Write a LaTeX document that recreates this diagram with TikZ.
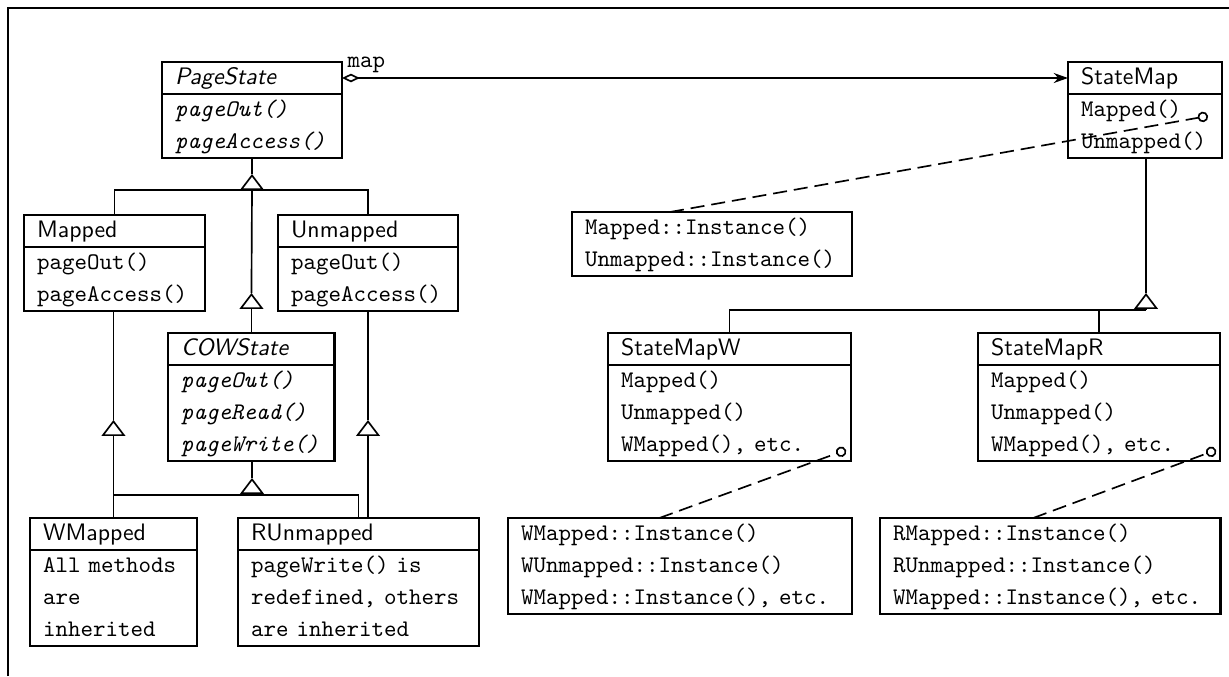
\documentclass[tikz,border=0pt]{standalone}
\usetikzlibrary{calc, positioning, arrows.meta}

\begin{document}
\begin{tikzpicture}[
    x=0.42pt, y=-0.42pt,
    classbox/.style={draw, line width=0.9pt, outer sep=0pt, inner xsep=5.5pt, inner ysep=0pt, align=left,
        execute at begin node=\strut, execute at end node=\strut},
    head/.style={classbox, anchor=north west, font=\fontsize{10}{13.44}\selectfont\sffamily},
    abshead/.style={head, font=\fontsize{10}{13.44}\selectfont\sffamily\itshape},
    ops/.style={classbox, below=0pt of #1, font=\fontsize{10}{13.44}\selectfont\ttfamily},
    absops/.style={ops=#1, font=\fontsize{10}{13.44}\selectfont\ttfamily\itshape},
    instbox/.style={classbox, anchor=north west, font=\fontsize{10}{13.44}\selectfont\ttfamily},
    line/.style={line width=0.7pt},
    gen/.style={line width=0.7pt, -{Triangle[open, length=6.7pt, width=10pt]}},
    assoc/.style={line width=0.7pt, {Diamond[open, length=7.5pt, width=3.6pt]}-{Stealth[length=6pt, width=4.2pt]}},
    note/.style={line width=0.7pt, dash pattern=on 5.9pt off 2.9pt, -{Circle[open, length=4.4pt]}}
]
    \useasboundingbox (0,0) rectangle (1229,676);

    % frame
    \draw[line width=0.9pt] (8,676) -- (8,8) -- (1229,8);

    % PageState and its subclasses
    \node[abshead, text width=64.6pt] (pagestate) at (162,62) {PageState};
    \node[absops=pagestate, text width=64.6pt] (pagestate-m) {pageOut()\\pageAccess()};

    \node[head, text width=65pt] (mapped) at (24,215) {Mapped};
    \node[ops=mapped, text width=65pt] (mapped-m) {pageOut()\\pageAccess()};

    \node[head, text width=64.6pt] (unmapped) at (278,215) {Unmapped};
    \node[ops=unmapped, text width=64.6pt] (unmapped-m) {pageOut()\\pageAccess()};

    \node[abshead, line width=1.2pt, text width=59.1pt] (cowstate) at (168,333) {COWState};
    \node[absops=cowstate, line width=1.2pt, text width=59.1pt] (cowstate-m) {pageOut()\\pageRead()\\pageWrite()};

    \node[head, text width=59.1pt] (wmapped) at (30,518) {WMapped};
    \node[ops=wmapped, text width=59.1pt] (wmapped-m) {All methods\\are\\inherited};

    \node[head, text width=90.2pt] (runmapped) at (238,518) {RUnmapped};
    \node[ops=runmapped, text width=90.2pt] (runmapped-m) {pageWrite() is\\redefined, others\\are inherited};

    % StateMap and its subclasses
    \node[head, text width=53.7pt] (statemap) at (1068,62) {StateMap};
    \node[ops=statemap, text width=53.7pt] (statemap-m) {Mapped()\\Unmapped()};

    \node[instbox, text width=106.6pt] (minst) at (572,212) {Mapped::Instance()\\Unmapped::Instance()};

    \node[head, text width=91.1pt] (statemapw) at (608,333) {StateMapW};
    \node[ops=statemapw, text width=91.1pt] (statemapw-m) {Mapped()\\Unmapped()\\WMapped(), etc.};

    \node[head, text width=90.6pt] (statemapr) at (978,333) {StateMapR};
    \node[ops=statemapr, text width=90.6pt] (statemapr-m) {Mapped()\\Unmapped()\\WMapped(), etc.};

    \node[instbox, text width=133.5pt] (wminst) at (508,518) {WMapped::Instance()\\WUnmapped::Instance()\\WMapped::Instance(), etc.};
    \node[instbox, text width=132pt] (rminst) at (880,518) {RMapped::Instance()\\RUnmapped::Instance()\\WMapped::Instance(), etc.};

    % map association
    \draw[assoc] (pagestate.east) -- (statemap.west)
        node[pos=0, above right, inner sep=2pt, font=\ttfamily] {map};

    % PageState generalization
    \coordinate (ps-bar) at (252,190);
    \draw[gen] (ps-bar) -- ++(0,-16) coordinate (ps-tip);
    \draw[line] (ps-tip) -- (ps-tip |- pagestate-m.south);
    \draw[line] (mapped.north) |- (ps-bar) -| (unmapped.north);
    \draw[line] (cowstate.north) -- ++(0,-23) coordinate (cow-base);
    \draw[gen] (cow-base) -- ++(0,-17) coordinate (cow-tip);
    \draw[line] (cow-tip) -- (ps-bar);

    % Mapped -> WMapped
    \draw[line] (wmapped.north) -- ++(0,-82) coordinate (wm-base);
    \draw[gen] (wm-base) -- ++(0,-16) coordinate (wm-tip);
    \draw[line] (wm-tip) -- (wm-tip |- mapped-m.south);

    % Unmapped -> RUnmapped
    \draw[line] (unmapped-m.south |- runmapped.north) -- ++(0,-82) coordinate (um-base);
    \draw[gen] (um-base) -- ++(0,-16) coordinate (um-tip);
    \draw[line] (um-tip) -- (unmapped-m.south);

    % COWState generalization
    \coordinate (cow-bar) at (252,495);
    \draw[gen] (cow-bar) -- ++(0,-17) coordinate (cb-tip);
    \draw[line] (cb-tip) -- (cb-tip |- cowstate-m.south);
    \draw[line] (wmapped.north) |- (cow-bar) -| (runmapped.north);

    % StateMap generalization
    \coordinate (sm-bar) at (1146,310);
    \draw[gen] (sm-bar) -- ++(0,-17) coordinate (sm-tip);
    \draw[line] (sm-tip) -- (sm-tip |- statemap-m.south);
    \draw[line] (statemapw.north) |- (sm-bar);
    \draw[line] (statemapr.north) |- (sm-bar);

    % instance notes
    \coordinate (sm-dot) at (1208,116);
    \coordinate (smw-dot) at (846,450);
    \coordinate (smr-dot) at (1216,450);
    \draw[note] ($(minst.north west)!0.35!(minst.north east)$) -- (sm-dot);
    \draw[note] ($(wminst.north west)!0.44!(wminst.north east)$) -- (smw-dot);
    \draw[note] ($(rminst.north west)!0.45!(rminst.north east)$) -- (smr-dot);

\end{tikzpicture}
\end{document}
